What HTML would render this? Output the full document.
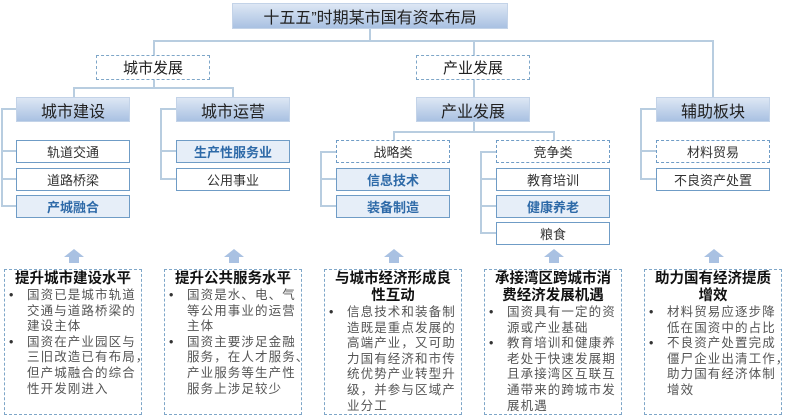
<!DOCTYPE html>
<html><head><meta charset="utf-8"><style>
*{margin:0;padding:0;box-sizing:border-box}
body{width:800px;height:420px;background:#fff;position:relative;overflow:hidden;font-family:"Liberation Sans","Noto Sans CJK SC",sans-serif;color:#222}
.b{position:absolute;display:flex;align-items:center;justify-content:center;text-align:center}
.g{background:linear-gradient(#dde7f4,#a9c1e2);border:1px solid #c3d3e8;font-size:16px;color:#222}
.d{border:1px dashed #7ea6c8;background:#fff;font-size:15px}
.w{border:1.5px solid #6f9cc6;background:#fff;font-size:13px;color:#333}
.f{border:1.5px solid #6f9cc6;background:#e6eef8;font-size:13px;color:#2e6aa8;font-weight:bold}
.dd{border:1.5px dashed #6f9cc6;background:#fff;font-size:13px;color:#333}
.l{position:absolute;background:#b8cde0}
.h{height:2px}.v{width:2px}
.arr{position:absolute;width:0;height:0;border-left:10px solid transparent;border-right:10px solid transparent;border-bottom:8px solid #a9c1e2}
.as{position:absolute;width:10px;height:6px;background:#a9c1e2}
.bx{position:absolute;top:269px;width:138px;height:146px;border:1.5px dashed #7ea6c8;padding:0 2px}
.bx h4{font-size:14.5px;font-weight:bold;text-align:center;line-height:17px;color:#111;margin-top:1px;padding:0 5px}
.bx ul{list-style:none;font-size:12.5px;color:#555;line-height:15.6px;letter-spacing:1.1px;white-space:nowrap}
.bx li{position:relative;padding-left:20px}
.bx li:before{content:"•";position:absolute;left:2px;color:#333}
</style></head><body>
<div class="b g" style="left:232px;top:3px;width:276px;height:26px">十五五”时期某市国有资本布局</div>
<div class="l v" style="left:369px;top:29px;height:13px"></div>
<div class="l h" style="left:153px;top:40px;width:561px"></div>
<div class="l v" style="left:153px;top:40px;height:15px"></div>
<div class="l v" style="left:473px;top:40px;height:15px"></div>
<div class="l v" style="left:712px;top:40px;height:57px"></div>
<div class="b d" style="left:96px;top:55px;width:114px;height:25px">城市发展</div>
<div class="b d" style="left:416px;top:55px;width:114px;height:25px">产业发展</div>
<div class="l v" style="left:153px;top:80px;height:9px"></div>
<div class="l h" style="left:73px;top:87px;width:161px"></div>
<div class="l v" style="left:73px;top:87px;height:10px"></div>
<div class="l v" style="left:232px;top:87px;height:10px"></div>
<div class="l v" style="left:473px;top:80px;height:17px"></div>
<div class="b g" style="left:16px;top:97px;width:114px;height:25px">城市建设</div>
<div class="b g" style="left:176px;top:97px;width:114px;height:25px">城市运营</div>
<div class="b g" style="left:416px;top:97px;width:114px;height:25px">产业发展</div>
<div class="b g" style="left:656px;top:97px;width:114px;height:25px">辅助板块</div>
<div class="l v" style="left:1px;top:108px;height:99px"></div>
<div class="l h" style="left:1px;top:108px;width:15px"></div>
<div class="l h" style="left:1px;top:150px;width:15px"></div>
<div class="l h" style="left:1px;top:178px;width:15px"></div>
<div class="l h" style="left:1px;top:205px;width:15px"></div>
<div class="l v" style="left:160px;top:108px;height:71px"></div>
<div class="l h" style="left:160px;top:108px;width:16px"></div>
<div class="l h" style="left:160px;top:150px;width:16px"></div>
<div class="l h" style="left:160px;top:178px;width:16px"></div>
<div class="l v" style="left:473px;top:122px;height:11px"></div>
<div class="l h" style="left:393px;top:131px;width:161px"></div>
<div class="l v" style="left:393px;top:131px;height:9px"></div>
<div class="l v" style="left:553px;top:131px;height:9px"></div>
<div class="l v" style="left:320px;top:151px;height:56px"></div>
<div class="l h" style="left:320px;top:151px;width:16px"></div>
<div class="l h" style="left:320px;top:178px;width:16px"></div>
<div class="l h" style="left:320px;top:205px;width:16px"></div>
<div class="l v" style="left:480px;top:151px;height:83px"></div>
<div class="l h" style="left:480px;top:151px;width:16px"></div>
<div class="l h" style="left:480px;top:178px;width:16px"></div>
<div class="l h" style="left:480px;top:205px;width:16px"></div>
<div class="l h" style="left:480px;top:232px;width:16px"></div>
<div class="l v" style="left:640px;top:108px;height:71px"></div>
<div class="l h" style="left:640px;top:108px;width:16px"></div>
<div class="l h" style="left:640px;top:150px;width:16px"></div>
<div class="l h" style="left:640px;top:178px;width:16px"></div>
<div class="b w" style="left:16px;top:140px;width:114px;height:23px">轨道交通</div>
<div class="b w" style="left:16px;top:168px;width:114px;height:23px">道路桥梁</div>
<div class="b f" style="left:16px;top:195px;width:114px;height:23px">产城融合</div>
<div class="b f" style="left:176px;top:140px;width:114px;height:23px">生产性服务业</div>
<div class="b w" style="left:176px;top:168px;width:114px;height:23px">公用事业</div>
<div class="b dd" style="left:336px;top:140px;width:114px;height:23px">战略类</div>
<div class="b f" style="left:336px;top:168px;width:114px;height:23px">信息技术</div>
<div class="b f" style="left:336px;top:195px;width:114px;height:23px">装备制造</div>
<div class="b dd" style="left:496px;top:140px;width:114px;height:23px">竞争类</div>
<div class="b w" style="left:496px;top:168px;width:114px;height:23px">教育培训</div>
<div class="b f" style="left:496px;top:195px;width:114px;height:23px">健康养老</div>
<div class="b w" style="left:496px;top:222px;width:114px;height:23px">粮食</div>
<div class="b dd" style="left:656px;top:140px;width:114px;height:23px">材料贸易</div>
<div class="b w" style="left:656px;top:168px;width:114px;height:23px">不良资产处置</div>
<div class="arr" style="left:64px;top:249px"></div><div class="as" style="left:69px;top:257px"></div>
<div class="arr" style="left:224px;top:249px"></div><div class="as" style="left:229px;top:257px"></div>
<div class="arr" style="left:384px;top:249px"></div><div class="as" style="left:389px;top:257px"></div>
<div class="arr" style="left:544px;top:249px"></div><div class="as" style="left:549px;top:257px"></div>
<div class="arr" style="left:704px;top:249px"></div><div class="as" style="left:709px;top:257px"></div>
<div class="bx" style="left:4px"><h4>提升城市建设水平</h4><ul><li>国资已是城市轨道<br>交通与道路桥梁的<br>建设主体</li><li>国资在产业园区与<br>三旧改造已有布局，<br>但产城融合的综合<br>性开发刚进入</li></ul></div>
<div class="bx" style="left:164px"><h4>提升公共服务水平</h4><ul><li>国资是水、电、气<br>等公用事业的运营<br>主体</li><li>国资主要涉足金融<br>服务，在人才服务、<br>产业服务等生产性<br>服务上涉足较少</li></ul></div>
<div class="bx" style="left:324px"><h4>与城市经济形成良<br>性互动</h4><ul><li>信息技术和装备制<br>造既是重点发展的<br>高端产业，又可助<br>力国有经济和市传<br>统优势产业转型升<br>级，并参与区域产<br>业分工</li></ul></div>
<div class="bx" style="left:484px"><h4>承接湾区跨城市消<br>费经济发展机遇</h4><ul><li>国资具有一定的资<br>源或产业基础</li><li>教育培训和健康养<br>老处于快速发展期<br>且承接湾区互联互<br>通带来的跨城市发<br>展机遇</li></ul></div>
<div class="bx" style="left:644px"><h4>助力国有经济提质<br>增效</h4><ul><li>材料贸易应逐步降<br>低在国资中的占比</li><li>不良资产处置完成<br>僵尸企业出清工作，<br>助力国有经济体制<br>增效</li></ul></div>
</body></html>
